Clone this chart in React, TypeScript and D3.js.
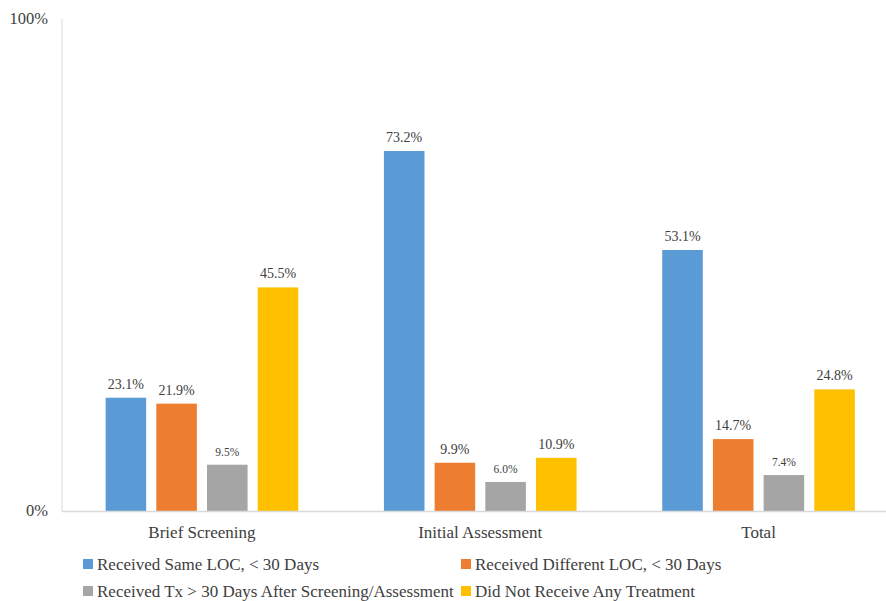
import React from "react";
import * as d3 from "d3";

const categories = ["Brief Screening", "Initial Assessment", "Total"];
const seriesNames = [
  "Received Same LOC, < 30 Days",
  "Received Different LOC, < 30 Days",
  "Received Tx > 30 Days After Screening/Assessment",
  "Did Not Receive Any Treatment",
];
const sameLoc = [23.1, 73.2, 53.1];
const differentLoc = [21.9, 9.9, 14.7];
const txAfter30 = [9.5, 6.0, 7.4];
const noTreatment = [45.5, 10.9, 24.8];
const yTicks = [0, 100];
const colors = ["#5B9BD5", "#ED7D31", "#A5A5A5", "#FFC000"];

const series = [sameLoc, differentLoc, txAfter30, noTreatment];

const W = 886;
const H = 601;
const FONT = "'Liberation Serif', 'Times New Roman', serif";
const TEXT = "#404040";
const txt = { fontFamily: FONT };

export default function App() {
  const x0 = d3.scaleBand<string>().domain(categories).range([62.8, 897.7]).paddingInner(0).paddingOuter(0);
  const x1 = d3
    .scaleBand<number>()
    .domain(d3.range(series.length))
    .range([0, x0.bandwidth()])
    .paddingInner(0.2)
    .paddingOuter(0.845);
  const y = d3.scaleLinear().domain([0, 100]).range([511.5, 19]);

  const legendItems = [
    { i: 0, x: 83, y: 564 },
    { i: 1, x: 461, y: 564 },
    { i: 2, x: 83, y: 591 },
    { i: 3, x: 461, y: 591 },
  ];

  return (
    <svg
      width={W}
      height={H}
      style={{ position: "absolute", left: 0, top: 0, background: "#fff" }}
    >
      {/* axes */}
      <line x1={62} x2={62} y1={y(100)} y2={y(0)} stroke="#D9D9D9" strokeWidth={1} />
      {yTicks.map((t) => (
        <text key={t} x={48} y={y(t)} dy="0.3em" textAnchor="end" fontSize={16.5} fill={TEXT} style={txt}>
          {t}%
        </text>
      ))}

      {/* bars and value labels */}
      {categories.map((c, ci) => (
        <g key={c} transform={`translate(${x0(c)},0)`}>
          {series.map((s, si) => {
            const bx = x1(si)!;
            const v = s[ci];
            return (
              <g key={si}>
                <rect x={bx} y={y(v)} width={x1.bandwidth()} height={y(0) - y(v)} fill={colors[si]} />
                <text
                  x={bx + x1.bandwidth() / 2}
                  y={y(v) - 9}
                  textAnchor="middle"
                  fontSize={si === 2 ? 11.5 : 14}
                  fill={TEXT}
                  style={txt}
                >
                  {v.toFixed(1)}%
                </text>
              </g>
            );
          })}
          <text
            x={x0.bandwidth() / 2}
            y={532}
            dy="0.35em"
            textAnchor="middle"
            fontSize={17}
            fill={TEXT}
            style={txt}
          >
            {c}
          </text>
        </g>
      ))}
      <line x1={62} x2={W} y1={y(0)} y2={y(0)} stroke="#D9D9D9" strokeWidth={1.5} />

      {/* legend */}
      {legendItems.map(({ i, x, y: ly }) => (
        <g key={i}>
          <rect x={x} y={ly - 5} width={10} height={10} fill={colors[i]} />
          <text x={x + 14} y={ly} dy="0.35em" fontSize={17} fill={TEXT} style={txt}>
            {seriesNames[i]}
          </text>
        </g>
      ))}
    </svg>
  );
}
